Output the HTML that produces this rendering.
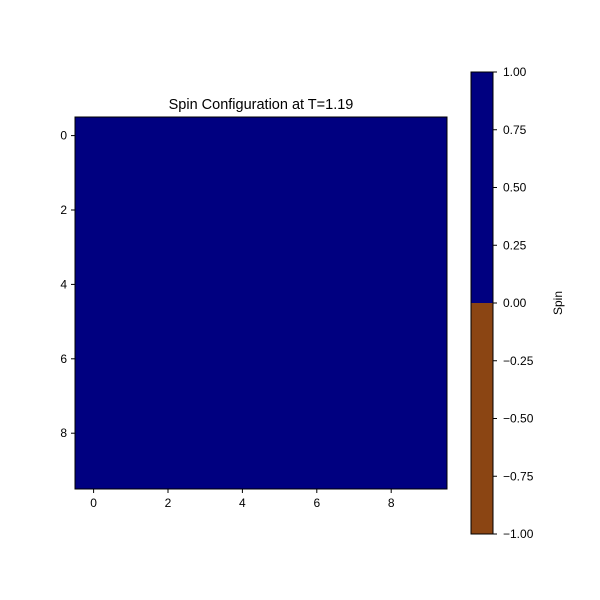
<!DOCTYPE html>
<html><head><meta charset="utf-8"><style>body{margin:0;background:#fff}svg{display:block;font-family:"Liberation Sans",sans-serif}</style></head>
<body>
<svg id="chart" width="600" height="600"></svg>
<script>
const grid = [
[1,1,1,1,1,1,1,1,1,1],[1,1,1,1,1,1,1,1,1,1],[1,1,1,1,1,1,1,1,1,1],[1,1,1,1,1,1,1,1,1,1],[1,1,1,1,1,1,1,1,1,1],
[1,1,1,1,1,1,1,1,1,1],[1,1,1,1,1,1,1,1,1,1],[1,1,1,1,1,1,1,1,1,1],[1,1,1,1,1,1,1,1,1,1],[1,1,1,1,1,1,1,1,1,1]];
const axisTicks = [0,2,4,6,8];
const cbTicks = [1.00,0.75,0.50,0.25,0.00,-0.25,-0.50,-0.75,-1.00];
const ns="http://www.w3.org/2000/svg", svg=document.getElementById('chart');
function el(t,a,p){const e=document.createElementNS(ns,t);for(const k in a)e.setAttribute(k,a[k]);(p||svg).appendChild(e);return e;}
const X0=75,Y0=117,W=372,H=372,n=grid.length,c=W/n;
const sx=i=>X0+(i+0.5)*c, sy=j=>Y0+(j+0.5)*c;
const color=v=>v>0?'#000080':'#8b4513';
const heat=el('g',{});


grid.forEach((row,j)=>row.forEach((v,i)=>{
 const r=el('rect',{x:sx(i)-c/2,y:sy(j)-c/2,width:c+0.5,height:c+0.5,fill:color(v)},heat);
 
 
}));
el('rect',{x:X0,y:Y0,width:W,height:H,fill:'none',stroke:'#000','stroke-width':1});
axisTicks.forEach(t=>{
 el('line',{x1:sx(t),x2:sx(t),y1:Y0+H,y2:Y0+H+4,stroke:'#000'});
 const a=el('text',{x:sx(t),y:Y0+H+18,'text-anchor':'middle','font-size':12});a.textContent=t;
 
 
 el('line',{x1:X0-4,x2:X0,y1:sy(t),y2:sy(t),stroke:'#000'});
 const b=el('text',{x:X0-8,y:sy(t)+4,'text-anchor':'end','font-size':12});b.textContent=t;
 
 
});
const title=el('text',{x:X0+W/2,y:Y0-8,'text-anchor':'middle','font-size':14.5});title.textContent='Spin Configuration at T=1.19';


// colorbar
const CX=471,CY=72,CW=22,CH=462,cy=v=>CY+(1-v)/2*CH;
const t1=el('rect',{x:CX,y:cy(1),width:CW,height:cy(0)-cy(1),fill:color(1)});


const t2=el('rect',{x:CX,y:cy(0),width:CW,height:cy(-1)-cy(0),fill:color(-1)});


el('rect',{x:CX,y:CY,width:CW,height:CH,fill:'none',stroke:'#000'});
cbTicks.forEach(v=>{
 el('line',{x1:CX+CW,x2:CX+CW+4,y1:cy(v),y2:cy(v),stroke:'#000'});
 const t=el('text',{x:CX+CW+10,y:cy(v)+4,'font-size':12});t.textContent=(v<0?'\u2212'+(-v).toFixed(2):v.toFixed(2));
 
 
});
const lab=el('text',{x:0,y:0,'font-size':12,'text-anchor':'middle',transform:'translate(562,303) rotate(-90)'});lab.textContent='Spin';


</script>
</body></html>
